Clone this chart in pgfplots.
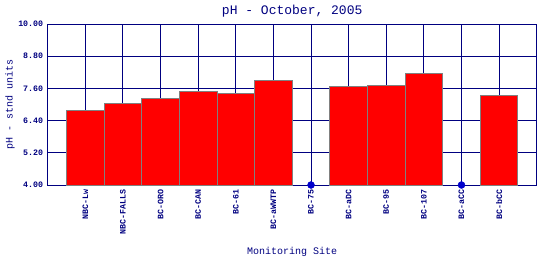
\documentclass[border=0pt]{standalone}
\usepackage{pgfplots}
\pgfplotsset{compat=1.18}
\usepackage{fontspec}
\setmainfont{Liberation Mono}
\definecolor{navy}{RGB}{0,0,128}
\definecolor{barred}{RGB}{255,0,0}
\definecolor{dotblue}{RGB}{0,0,204}
\begin{document}
\begin{tikzpicture}[x=1pt,y=1pt]
\path[use as bounding box] (0,0) rectangle (540,260);
\begin{axis}[
  at={(47.7pt,75pt)}, anchor=south west,
  scale only axis, width=489pt, height=161pt,
  xmin=-1, xmax=12, ymin=4, ymax=10,
  xtick={0,...,11},
  xticklabels={NBC-Lw,NBC-FALLS,BC-ORO,BC-CAN,BC-61,BC-aWWTP,BC-75,BC-aDC,BC-95,BC-107,BC-aCC,BC-bCC},
  ytick={4,5.2,6.4,7.6,8.8,10},
  /pgf/number format/fixed,
  /pgf/number format/fixed zerofill,
  /pgf/number format/precision=2,
  /pgf/number format/assume math mode=true,
  grid=major,
  grid style={navy, line width=0.9pt},
  axis line style={navy, line width=0.9pt},
  major tick length=0pt,
  tick style={draw=none},
  yticklabel style={font=\fontsize{8.3}{9}\selectfont\bfseries, text=navy, anchor=east, xshift=-1pt},
  xticklabel style={font=\fontsize{8.3}{9}\selectfont\bfseries, text=navy, rotate=90, anchor=east, xshift=-1pt},
  title={pH - October, 2005},
  title style={font=\fontsize{13}{14}\selectfont, text=navy, at={(axis description cs:0.5,1)}, anchor=center, yshift=7pt},
  xlabel={Monitoring Site},
  xlabel style={font=\fontsize{10}{11}\selectfont, text=navy, at={(axis description cs:0.5,0)}, anchor=center, yshift=-67pt},
  ylabel={pH - stnd units},
  ylabel style={font=\fontsize{10}{11}\selectfont, text=navy, at={(axis description cs:0,0.5)}, anchor=center, yshift=37.7pt},
]
\addplot[ybar, bar width=1, fill=barred, draw=gray, line width=0.9pt] coordinates {
  (0,6.78) (1,7.04) (2,7.23) (3,7.50) (4,7.42) (5,7.88)
  (7,7.68) (8,7.72) (9,8.17) (11,7.34)};
\addplot[only marks, mark=*, mark size=3.5pt, color=dotblue] coordinates {(6,4) (10,4)};
\end{axis}
\end{tikzpicture}
\end{document}
